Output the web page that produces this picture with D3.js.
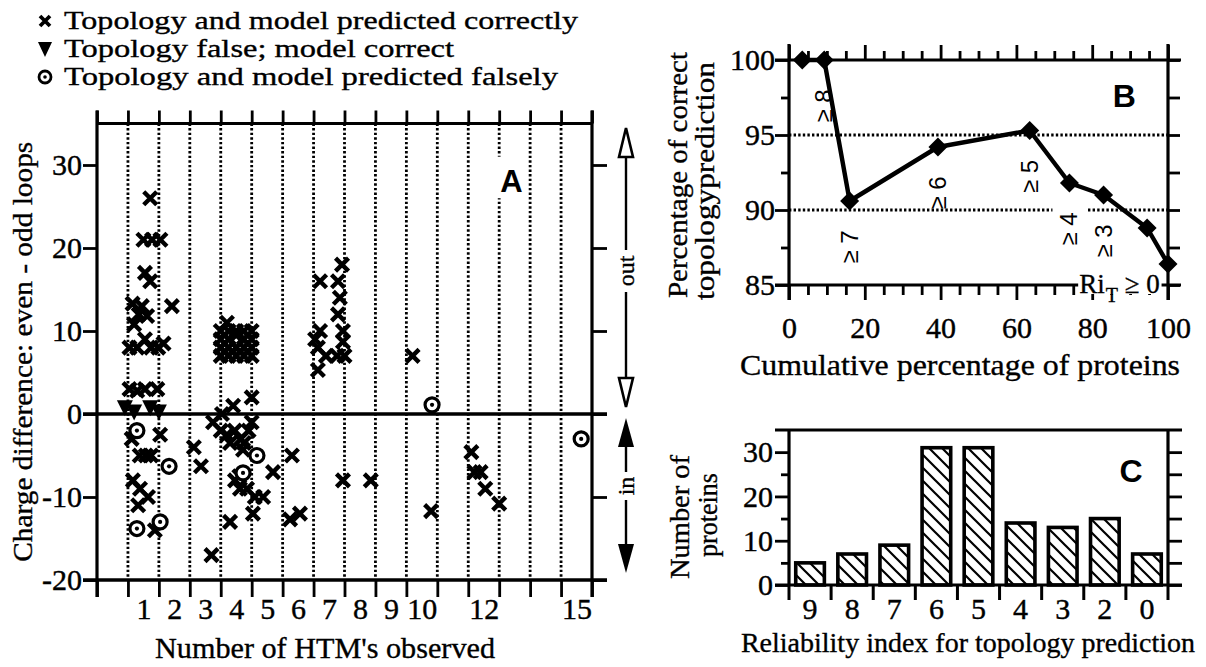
<!DOCTYPE html>
<html><head><meta charset="utf-8">
<script src="https://cdn.jsdelivr.net/npm/d3@7"></script>
<style>body{margin:0;background:#fff}svg{display:block}</style>
</head><body><svg id="chart" width="1206" height="667"></svg>
<script>
// ---------- DATA ----------
const legendLabels = ["Topology and model predicted correctly","Topology false; model correct","Topology and model predicted falsely"];
const htmTickValues = [1,2,3,4,5,6,7,8,9,10,12,15];
const htmTickLabels = ["1","2","3","4","5","6","7","8","9","10","12","15"];
const chargeTicks = [-20,-10,0,10,20,30];
// Panel A points: [position on HTM axis, charge difference]
const crossPoints = [
 [1.72,26],[1.5,21],[1.78,21],[2.05,21],[1.55,17],[1.72,16],[2.42,13],
 [1.15,13.3],[1.45,13],[1.62,11.8],[1.2,10.8],[1.35,12],
 [1.05,8],[1.3,8],[1.55,9],[1.75,8],[1.98,8],[2.15,8.5],
 [1.05,3],[1.3,2.8],[1.55,3],[1.95,3],
 [1.12,-3],[2.04,-2.5],[1.38,-5],[1.58,-5],[1.75,-5],
 [1.16,-8],[1.39,-9],[1.65,-10],[1.33,-11],[1.87,-14],
 [3.13,-4],[3.36,-6.3],[3.7,-17],[3.75,-1],
 [4.0,7],[4.25,7],[4.5,7],[4.75,7],[5.0,7],
 [4.0,8],[4.25,8],[4.5,8],[4.75,8],[5.0,8],
 [4.0,9],[4.25,9],[4.5,9.5],[4.75,9],[5.0,9],
 [4.0,10],[4.25,10],[4.5,10],[4.75,10],[5.0,10],[4.2,11],
 [4.4,1],[4.04,0],[5.0,2],
 [4.0,-2],[4.2,-2.5],[4.45,-2],[4.65,-3],[4.9,-2],[5.0,-1],[4.3,-3.5],[4.75,-3.5],[4.72,-4.3],
 [4.46,-8],[4.62,-9],[4.85,-9],[4.6,-7.5],[5.1,-10],[5.37,-10],[4.3,-13],[5.04,-12],
 [5.69,-7],[6.3,-5],[6.24,-12.7],[6.56,-12],
 [7.92,18],[7.21,16],[7.79,16],[7.85,14],[7.79,12],[7.21,10],[7.95,10],[7.05,9],[7.95,8.7],
 [7.14,8],[7.76,7],[8.0,7],[7.4,7],[7.14,5.3],
 [7.95,-8],[8.85,-8],[10.2,7],[10.8,-11.7],
 [12.1,-4.6],[12.2,-7],[12.4,-7],[12.55,-9],[13.0,-10.8]
];
const trianglePoints = [[0.9,0.8],[1.2,0.3],[1.72,0.8],[2.0,0.3]];
const circlePoints = [[1.29,-2],[2.33,-6.3],[1.29,-13.8],[2.04,-13],[5.17,-5],[4.72,-7.1],[10.83,1.1],[15.65,-3]];

// Panel B
const cumulativePercent = [3.5,9.3,16,39.3,63.5,74,83,94.5,100];
const correctPercent = [100,100,90.6,94.2,95.3,91.8,91.0,88.8,86.4];
const riLabels = ["","≥ 8","≥ 7","≥ 6","≥ 5","≥ 4","≥ 3","",""];
const bYTicks = [85,90,95,100];
const bYMinor = [87.5,92.5,97.5];
const bXTicks = [0,20,40,60,80,100];

// Panel C
const riCategories = ["9","8","7","6","5","4","3","2","0"];
const proteinCounts = [5,7,9,31,31,14,13,15,7];
const cYTicks = [0,10,20,30];
const cYMinor = [5,15,25];

// ---------- LAYOUT ----------
const SERIF = '"Liberation Serif","Times New Roman",serif';
const SANS = '"Liberation Sans",Arial,sans-serif';
const svg = d3.select("#chart");
const K = "#000";
const FS = 30;

function ln(g,x1,y1,x2,y2,w,dash){
  const l = g.append("line").attr("x1",x1).attr("y1",y1).attr("x2",x2).attr("y2",y2)
    .attr("stroke",K).attr("stroke-width",w);
  if(dash) l.attr("stroke-dasharray",dash);
  return l;
}
function styleAxis(sel,w,fs){
  sel.select(".domain").remove();
  sel.selectAll(".tick line").attr("stroke",K).attr("stroke-width",w);
  sel.selectAll(".tick text").attr("font-family",SERIF).attr("font-size",fs||FS).attr("fill",K)
    .attr("stroke",K).attr("stroke-width",0.4);
}
function txt(g,x,y,s,fs,opts={}){
  const t = g.append("text").attr("x",x).attr("y",y).text(s)
    .attr("font-family",opts.family||SERIF).attr("font-size",fs).attr("fill",K)
    .attr("text-anchor",opts.anchor||"middle");
  if(!opts.family) t.attr("stroke",K).attr("stroke-width",0.35);
  if(opts.weight) t.attr("font-weight",opts.weight);
  if(opts.rotate!==undefined) t.attr("transform",`rotate(${opts.rotate},${x},${y})`);
  if(opts.len) t.attr("textLength",opts.len).attr("lengthAdjust","spacingAndGlyphs");
  return t;
}
const crossPath = s => `M${-s},${-s}L${s},${s}M${-s},${s}L${s},${-s}`;

// ---------- LEGEND ----------
const leg = svg.append("g");
const legRows = [21,49,77];
const legLens = [514,390,494];
leg.append("path").attr("d",crossPath(5)).attr("transform",`translate(45,${legRows[0]})`)
  .attr("stroke",K).attr("stroke-width",3.8).attr("fill","none");
leg.append("path").attr("d","M-7,-7L7,-7L0,8Z").attr("transform",`translate(45,${legRows[1]})`).attr("fill",K);
leg.append("circle").attr("cx",45).attr("cy",legRows[2]).attr("r",6).attr("fill","#fff").attr("stroke",K).attr("stroke-width",2.8);
leg.append("circle").attr("cx",45).attr("cy",legRows[2]).attr("r",1.8).attr("fill",K);
legendLabels.forEach((s,i)=>txt(leg,64,legRows[i]+8,s,26,{anchor:"start",len:legLens[i]}));

// ---------- PANEL A ----------
const gA = svg.append("g");
const ax = d3.scaleLinear().domain([0,16]).range([97,592]);
const ay = d3.scaleLinear().domain([-20,35]).range([580,123.5]);
d3.range(1,16).forEach(k=>ln(gA,ax(k),ay(35),ax(k),ay(-20),2.8,"2.4,2.2"));
gA.append("g").attr("transform",`translate(${ax(0)},0)`)
  .call(d3.axisLeft(ay).tickValues(chargeTicks).tickSize(14).tickPadding(1).tickFormat(d=>String(d)))
  .call(s=>styleAxis(s,2.8));
gA.append("g").attr("transform",`translate(${ax(16)},0)`)
  .call(d3.axisRight(ay).tickValues(chargeTicks).tickSize(15).tickFormat(""))
  .call(s=>styleAxis(s,2.8));
gA.append("g").attr("transform",`translate(0,${ay(-20)})`)
  .call(d3.axisBottom(ax).tickValues(d3.range(0,17)).tickSize(17).tickFormat(""))
  .call(s=>styleAxis(s,2.8));
gA.append("g").attr("transform",`translate(0,${ay(35)})`)
  .call(d3.axisTop(ax).tickValues(d3.range(0,17)).tickSize(13).tickFormat(""))
  .call(s=>styleAxis(s,2.8));
const aLab = gA.append("g").attr("transform",`translate(0,${ay(-20)})`)
  .call(d3.axisBottom(ax).tickValues(htmTickValues.map(v=>v+0.5)).tickSize(0).tickFormat((d,i)=>htmTickLabels[i]))
  .call(s=>styleAxis(s,0));
aLab.selectAll(".tick text").attr("y",39).attr("dy",null);
ln(gA,ax(0),ay(35)-13,ax(0),ay(-20)+17,3.2);
ln(gA,ax(16),ay(35)-13,ax(16),ay(-20)+17,3.2);
ln(gA,ax(0),ay(35),ax(16),ay(35),3.2);
ln(gA,ax(0)-14,ay(-20),ax(16)+15,ay(-20),3.4);
ln(gA,ax(0)-14,ay(0),ax(16)+15,ay(0),3.4);
gA.append("rect").attr("x",ax(12.9)).attr("y",ay(31)).attr("width",28).attr("height",ay(26)-ay(31)).attr("fill","#fff");
txt(gA,ax(13.4),ay(26.8),"A",31,{family:SANS,weight:"bold"});
gA.selectAll("path.cross").data(crossPoints).join("path").attr("class","cross")
  .attr("d",crossPath(6.5)).attr("transform",d=>`translate(${ax(d[0])},${ay(d[1])})`)
  .attr("stroke",K).attr("stroke-width",4.4).attr("fill","none");
gA.selectAll("path.tri").data(trianglePoints).join("path").attr("class","tri")
  .attr("d","M-8,-7L8,-7L0,9Z").attr("transform",d=>`translate(${ax(d[0])},${ay(d[1])})`).attr("fill",K);
const cg = gA.selectAll("g.circ").data(circlePoints).join("g").attr("class","circ")
  .attr("transform",d=>`translate(${ax(d[0])},${ay(d[1])})`);
cg.append("circle").attr("r",7).attr("fill","#fff").attr("stroke",K).attr("stroke-width",3.2);
cg.append("circle").attr("r",2.1).attr("fill",K);
txt(gA,32,ay(7.5),"Charge difference: even - odd loops",27,{rotate:-90,len:420});
txt(gA,325,658,"Number of HTM's observed",30,{len:340});
// in/out arrows
const arX = 626;
const ar = svg.append("g");
ln(ar,arX,140,arX,395,2.4);
ar.append("path").attr("d",`M${arX},128L${arX-7},157L${arX+7},157Z`).attr("fill","#fff").attr("stroke",K).attr("stroke-width",2.6);
ar.append("path").attr("d",`M${arX},407L${arX-7},378L${arX+7},378Z`).attr("fill","#fff").attr("stroke",K).attr("stroke-width",2.6);
ar.append("rect").attr("x",arX-12).attr("y",250).attr("width",24).attr("height",42).attr("fill","#fff");
txt(ar,arX+8,271,"out",24,{rotate:-90});
ln(ar,arX,430,arX,560,2.4);
ar.append("path").attr("d",`M${arX},418L${arX-8},447L${arX+8},447Z`).attr("fill",K);
ar.append("path").attr("d",`M${arX},573L${arX-8},544L${arX+8},544Z`).attr("fill",K);
ar.append("rect").attr("x",arX-12).attr("y",472).attr("width",24).attr("height",28).attr("fill","#fff");
txt(ar,arX+8,486,"in",24,{rotate:-90});

// ---------- PANEL B ----------
const gB = svg.append("g");
const bx = d3.scaleLinear().domain([0,100]).range([789,1168]);
const by = d3.scaleLinear().domain([85,100]).range([285,60]);
[95,90].forEach(v=>ln(gB,bx(0),by(v),bx(100),by(v),2.8,"2.4,2.2"));
gB.append("g").attr("transform",`translate(${bx(0)},0)`)
  .call(d3.axisLeft(by).tickValues(bYTicks).tickSize(14).tickPadding(0).tickFormat(d=>String(d)))
  .call(s=>styleAxis(s,2.8));
gB.append("g").attr("transform",`translate(${bx(0)},0)`)
  .call(d3.axisLeft(by).tickValues(bYMinor).tickSize(8).tickFormat(""))
  .call(s=>styleAxis(s,2.8));
gB.append("g").attr("transform",`translate(${bx(100)},0)`)
  .call(d3.axisRight(by).tickValues(bYTicks.concat(bYMinor)).tickSize(12).tickFormat(""))
  .call(s=>styleAxis(s,2.8));
const bMinorX = d3.range(5,100,5).filter(v=>v%20!==0);
const bxl = gB.append("g").attr("transform",`translate(0,${by(85)})`)
  .call(d3.axisBottom(bx).tickValues(bXTicks).tickSize(15).tickFormat(d=>String(d)))
  .call(s=>styleAxis(s,2.8));
bxl.selectAll(".tick text").attr("y",53).attr("dy",null);
gB.append("g").attr("transform",`translate(0,${by(85)})`)
  .call(d3.axisBottom(bx).tickValues(bMinorX).tickSize(10).tickFormat(""))
  .call(s=>styleAxis(s,2.8));
gB.append("g").attr("transform",`translate(0,${by(100)})`)
  .call(d3.axisTop(bx).tickValues(bXTicks).tickSize(15).tickFormat(""))
  .call(s=>styleAxis(s,2.8));
gB.append("g").attr("transform",`translate(0,${by(100)})`)
  .call(d3.axisTop(bx).tickValues(bMinorX).tickSize(9).tickFormat(""))
  .call(s=>styleAxis(s,2.8));
ln(gB,bx(0),by(100)-16,bx(0),by(85)+15,3.2);
ln(gB,bx(100),by(100)-16,bx(100),by(85)+15,3.2);
ln(gB,bx(0)-14,by(100),bx(100)+13,by(100),3.2);
ln(gB,bx(0)-14,by(85),bx(100)+13,by(85),3.2);
gB.append("rect").attr("x",bx(76.3)).attr("y",by(85)-15).attr("width",bx(98.3)-bx(76.3)).attr("height",24).attr("fill","#fff");
const ri = gB.append("text").attr("x",bx(76.6)).attr("y",by(85)+8).attr("font-family",SERIF).attr("font-size",27)
  .attr("fill",K).attr("stroke",K).attr("stroke-width",0.35);
ri.append("tspan").text("Ri");
ri.append("tspan").text("T").attr("font-size",20).attr("dx",1).attr("dy",9);
ri.append("tspan").text(" ≥ 0").attr("dy",-9);
const bLine = d3.line().x((d,i)=>bx(cumulativePercent[i])).y(d=>by(d));
gB.append("path").datum(correctPercent).attr("d",bLine).attr("fill","none").attr("stroke",K).attr("stroke-width",4.4).attr("stroke-linejoin","round");
gB.selectAll("path.dia").data(correctPercent).join("path").attr("class","dia")
  .attr("d","M0,-9.5L9.5,0L0,9.5L-9.5,0Z").attr("transform",(d,i)=>`translate(${bx(cumulativePercent[i])},${by(d)})`).attr("fill",K);
riLabels.forEach((s,i)=>{
  if(!s) return;
  const x = bx(cumulativePercent[i]), y = by(correctPercent[i])+46;
  if(s==="≥ 4") gB.append("rect").attr("x",x-17).attr("y",by(90)-5).attr("width",34).attr("height",10).attr("fill","#fff");
  txt(gB,x+8,y,s,24,{family:SANS,rotate:-90});
});
txt(gB,bx(88.5),107,"B",32,{family:SANS,weight:"bold"});
txt(gB,687,175,"Percentage of correct",27,{rotate:-90,len:246});
txt(gB,714,181,"topologyprediction",27,{rotate:-90,len:238});
txt(gB,960,375,"Cumulative percentage of proteins",30,{len:440});

// ---------- PANEL C ----------
const gC = svg.append("g");
const defs = svg.append("defs");
defs.append("pattern").attr("id","hatch").attr("patternUnits","userSpaceOnUse").attr("width",13).attr("height",13)
  .append("path").attr("d","M0,0L13,13M-3,10L3,16M10,-3L16,3").attr("stroke",K).attr("stroke-width",2.2);
const cx = d3.scaleBand().domain(riCategories).range([789,1168]).paddingInner(0.32).paddingOuter(0.16);
const cy = d3.scaleLinear().domain([0,35]).range([585,430]);
gC.append("g").attr("transform",`translate(${cx.range()[0]},0)`)
  .call(d3.axisLeft(cy).tickValues(cYTicks).tickSize(14).tickPadding(2).tickFormat(d=>String(d)))
  .call(s=>styleAxis(s,2.8));
gC.append("g").attr("transform",`translate(${cx.range()[0]},0)`)
  .call(d3.axisLeft(cy).tickValues(cYMinor).tickSize(8).tickFormat(""))
  .call(s=>styleAxis(s,2.8));
gC.append("g").attr("transform",`translate(${cx.range()[1]},0)`)
  .call(d3.axisRight(cy).tickValues(cYTicks.concat(cYMinor)).tickSize(14).tickFormat(""))
  .call(s=>styleAxis(s,2.8));
const cxl = gC.append("g").attr("transform",`translate(0,${cy(0)})`)
  .call(d3.axisBottom(cx).tickSize(0).tickFormat(d=>d))
  .call(s=>styleAxis(s,0));
cxl.selectAll(".tick text").attr("y",34).attr("dy",null);
const step = cx.step();
d3.range(0,riCategories.length+1).forEach(i=>{
  const x = cx.range()[0] + i*step;
  ln(gC,x,cy(0),x,cy(0)+15,3);
});
ln(gC,cx.range()[0],cy(35),cx.range()[0],cy(0),3.2);
ln(gC,cx.range()[1],cy(35),cx.range()[1],cy(0),3.2);
ln(gC,cx.range()[0]-14,cy(35),cx.range()[1]+14,cy(35),3.2);
ln(gC,cx.range()[0]-14,cy(0),cx.range()[1]+14,cy(0),3.2);
gC.selectAll("rect.bar").data(proteinCounts).join("rect").attr("class","bar")
  .attr("x",(d,i)=>cx(riCategories[i])).attr("y",d=>cy(d))
  .attr("width",cx.bandwidth()).attr("height",d=>cy(0)-cy(d))
  .attr("fill","url(#hatch)").attr("stroke",K).attr("stroke-width",3.6);
txt(gC,1131,482,"C",32,{family:SANS,weight:"bold"});
txt(gC,689,517,"Number of",28,{rotate:-90,len:124});
txt(gC,717,515,"proteins",28,{rotate:-90,len:84});
txt(gC,968,652,"Reliability index for topology prediction",28);
</script></body></html>
